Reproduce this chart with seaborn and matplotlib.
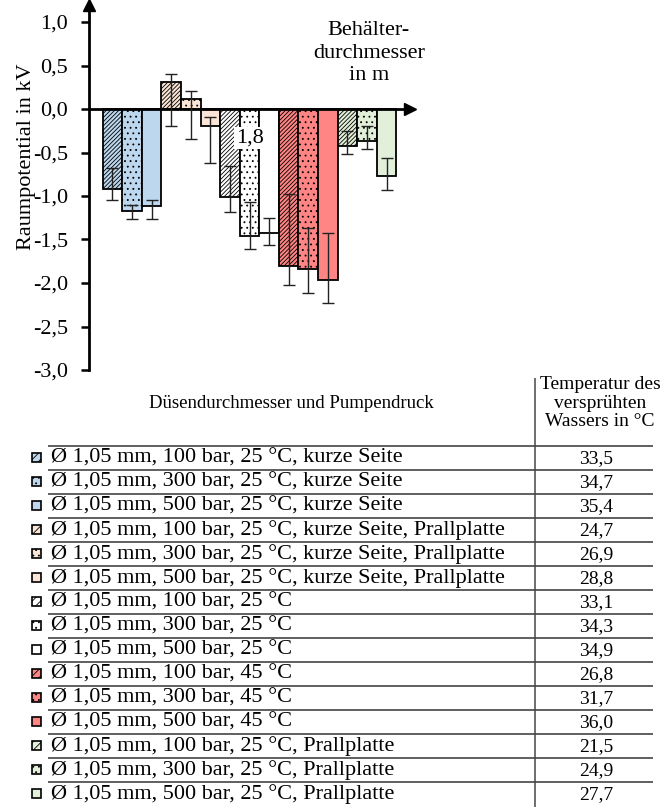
import numpy as np
import pandas as pd
import seaborn as sns
import matplotlib.pyplot as plt
from matplotlib.patches import Rectangle

# data
labels = [
    "Ø 1,05 mm, 100 bar, 25 °C, kurze Seite",
    "Ø 1,05 mm, 300 bar, 25 °C, kurze Seite",
    "Ø 1,05 mm, 500 bar, 25 °C, kurze Seite",
    "Ø 1,05 mm, 100 bar, 25 °C, kurze Seite, Prallplatte",
    "Ø 1,05 mm, 300 bar, 25 °C, kurze Seite, Prallplatte",
    "Ø 1,05 mm, 500 bar, 25 °C, kurze Seite, Prallplatte",
    "Ø 1,05 mm, 100 bar, 25 °C",
    "Ø 1,05 mm, 300 bar, 25 °C",
    "Ø 1,05 mm, 500 bar, 25 °C",
    "Ø 1,05 mm, 100 bar, 45 °C",
    "Ø 1,05 mm, 300 bar, 45 °C",
    "Ø 1,05 mm, 500 bar, 45 °C",
    "Ø 1,05 mm, 100 bar, 25 °C, Prallplatte",
    "Ø 1,05 mm, 300 bar, 25 °C, Prallplatte",
    "Ø 1,05 mm, 500 bar, 25 °C, Prallplatte",
]
temps = ["33,5", "34,7", "35,4", "24,7", "26,9", "28,8", "33,1", "34,3",
         "34,9", "26,8", "31,7", "36,0", "21,5", "24,9", "27,7"]
potential = [-0.92, -1.17, -1.12, 0.31, 0.115, -0.20, -1.01, -1.46, -1.42,
             -1.80, -1.84, -1.97, -0.425, -0.37, -0.77]
err_low = [-1.05, -1.27, -1.26, -0.19, -0.34, -0.62, -1.18, -1.61, -1.56,
           -2.02, -2.12, -2.23, -0.52, -0.46, -0.93]
err_high = [-0.68, -1.10, -1.05, 0.40, 0.21, -0.095, -0.655, -1.07, -1.25,
            -0.98, -1.37, -1.42, -0.25, -0.195, -0.56]
group_colors = ["#BDD7EE", "#FBE5D6", "#FFFFFF", "#FF8585", "#E2F0D9"]
pressure_hatch = ["////////", "...", ""]
diameter_label = "1,8"
yticks = np.arange(-3.0, 1.01, 0.5)

colors = [c for c in group_colors for _ in pressure_hatch]
hatches = [h for _ in group_colors for h in pressure_hatch]

sns.set_theme(style="white")
plt.rcParams["font.family"] = ["Liberation Serif", "DejaVu Serif"]
plt.rcParams["hatch.linewidth"] = 0.6
plt.rcParams["hatch.color"] = "#474747"
for key in ["text.color", "axes.labelcolor", "xtick.color", "ytick.color"]:
    plt.rcParams[key] = "black"

fig = plt.figure(figsize=(6.64, 8.09), dpi=100)
ax = fig.add_axes([89 / 664, 1 - 370 / 809, (410 - 89) / 664, (370 - 4.6) / 809])

df = pd.DataFrame({"label": labels, "potential": potential})
sns.barplot(data=df, x="label", y="potential", hue="label", palette=colors,
            width=1.0, legend=False, edgecolor="black", linewidth=1.3,
            saturation=1, errorbar=None, ax=ax)
bars = sorted(ax.patches, key=lambda p: p.get_x())
for bar, h in zip(bars, hatches):
    bar.set_hatch(h)
    bar.set_zorder(2)

x = np.arange(len(labels))
pot = np.array(potential)
yerr = [pot - np.array(err_low), np.array(err_high) - pot]
ax.errorbar(x, pot, yerr=yerr, fmt="none", ecolor="#222222", elinewidth=1.0,
            capsize=4, capthick=1.0, zorder=4)

ax.set_xlim(-1.2, 15.2)
ax.set_ylim(-3.0, 1.2)
ax.set_xticks([])
ax.set_xlabel("")
ax.set_yticks(yticks)
ax.set_yticklabels([f"{v:.1f}".replace(".", ",") for v in yticks], fontsize=16)
ax.tick_params(axis="y", direction="out", length=6, width=1.8, pad=9,
               left=True, colors="black")
ax.set_ylabel("Raumpotential in kV", fontsize=16)
ax.yaxis.set_label_coords(-0.165, 1 - (157 - 4.6) / (370 - 4.6))
for s in ["top", "right", "bottom"]:
    ax.spines[s].set_visible(False)
ax.spines["left"].set_linewidth(2)
ax.spines["left"].set_color("black")
ax.axhline(0, color="black", lw=2, zorder=3)
ax.plot(1, 0, ">", color="black", ms=9, transform=ax.get_yaxis_transform(),
        clip_on=False, zorder=5)
ax.plot(0, 1, "^", color="black", ms=9, transform=ax.transAxes,
        clip_on=False, zorder=5)
ax.set_facecolor("none")

ax.text(7, -0.33, diameter_label, ha="center", va="center", fontsize=16,
        bbox=dict(facecolor="white", edgecolor="none", pad=1), zorder=6)
ax.text(13.1, 0.64, "Behälter-\ndurchmesser\nin m", ha="center", va="center",
        fontsize=16, linespacing=1.25)

# table below the chart, drawn in pixel coordinates
tb = fig.add_axes([0, 0, 1, 1], zorder=-1)
tb.set_xlim(0, 664)
tb.set_ylim(809, 0)
tb.axis("off")

tb.text(291, 403, "Düsendurchmesser und Pumpendruck", ha="center",
        va="center", fontsize=13.5)
tb.text(600, 403, "Temperatur des\nversprühten\nWassers in °C", ha="center",
        va="center", fontsize=14, linespacing=1.08)
tb.vlines(535, 378, 807, color="#555555", lw=1.2)
for k in range(len(labels)):
    tb.hlines(446 + 24 * k, 48, 653, color="#444444", lw=1.2)

for i, (lab, t) in enumerate(zip(labels, temps)):
    yc = 457.5 + 24 * i
    tb.add_patch(Rectangle((32, yc - 4.5), 9, 9, facecolor=colors[i],
                           edgecolor="black", lw=1.2, hatch=hatches[i][:4]))
    tb.text(51, yc + 1, lab, ha="left", va="center", fontsize=16)
    tb.text(596, yc + 1.5, t, ha="center", va="center", fontsize=14)

fig.savefig("out.png", dpi=100)
